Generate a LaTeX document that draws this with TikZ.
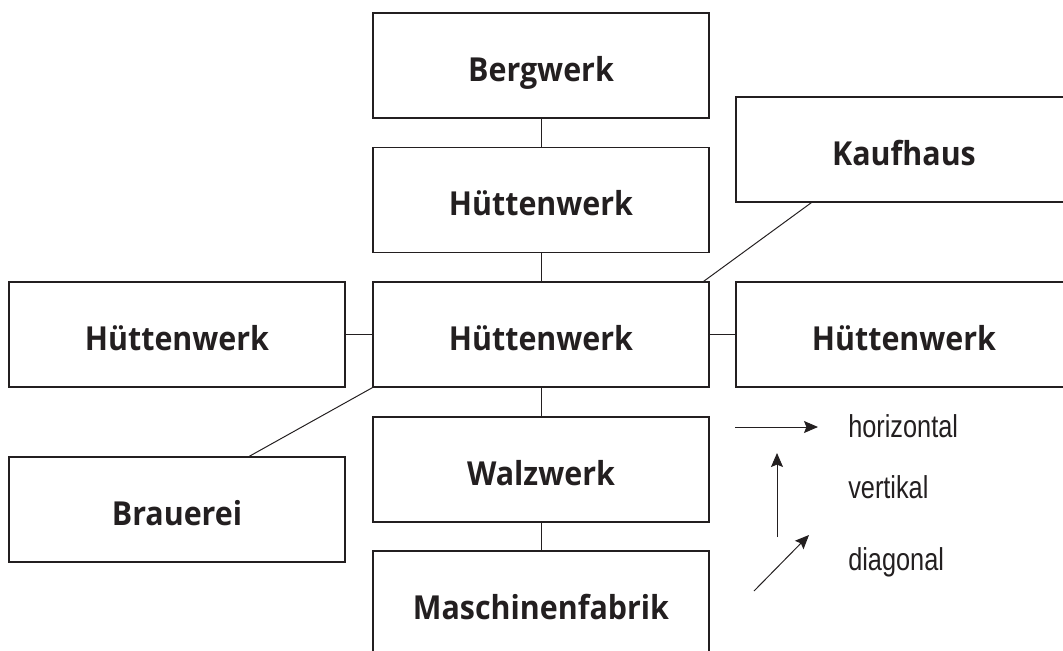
\documentclass[tikz,border=0pt]{standalone}
\usepackage{fontspec}
\setmainfont{Open Sans}
\newfontfamily\werkfont[FakeStretch=0.92]{Open Sans}
\newfontfamily\legendfont[FakeStretch=0.8]{Liberation Sans}
\usetikzlibrary{arrows.meta,calc}
\definecolor{ink}{HTML}{231F20}
\begin{document}
\begin{tikzpicture}[draw=ink,text=ink]
\tikzset{werk/.style={draw,line width=1pt,minimum width=8.4cm,minimum height=2.625cm,inner sep=0pt,
  text height=0.775cm,text depth=0pt,font=\werkfont\fontsize{23.5}{28}\selectfont\bfseries},
  link/.style={line width=0.7pt},
  pfeil/.style={line width=0.7pt,-{Stealth[length=3.5mm,width=3mm,inset=0.6mm]}},
  legende/.style={anchor=base west,inner sep=0pt,font=\legendfont\fontsize{22.5}{27}\selectfont}}
\clip (0,0) rectangle (26.575,-16.275);
\node [werk] (berg) at (13.525,-1.6375) {Bergwerk};
\node [werk] (huette1) at (13.525,-5) {Hüttenwerk};
\node [werk] (huette2) at (13.525,-8.3625) {Hüttenwerk};
\node [werk] (huetteL) at (4.425,-8.3625) {Hüttenwerk};
\node [werk] (huetteR) at (22.6,-8.3625) {Hüttenwerk};
\node [werk] (kauf) at (22.6,-3.7375) {Kaufhaus};
\node [werk] (walz) at (13.525,-11.7375) {Walzwerk};
\node [werk] (masch) at (13.525,-15.0875) {Maschinenfabrik};
\node [werk] (brau) at (4.425,-12.7375) {Brauerei};
\draw [link] (berg) -- (huette1);
\draw [link] (huette1) -- (huette2);
\draw [link] (huette2) -- (walz);
\draw [link] (walz) -- (masch);
\draw [link] (huetteL) -- (huette2);
\draw [link] (huette2) -- (huetteR);
\draw [link] ($(huette2.north east)+(-0.15,0)$) -- ($(kauf.south west)+(1.9,0)$);
\draw [link] (huette2.south west) -- ($(brau.north west)+(6.025,0)$);
% Legende
\node [legende] (hor) at (21.2,-10.925) {horizontal};
\node [legende] (ver) at (21.2,-12.45) {vertikal};
\node [legende] (dia) at (21.2,-14.25) {diagonal};
\coordinate (h1) at (18.375,-10.675);
\coordinate (h2) at (20.45,-10.675);
\coordinate (v1) at (19.425,-13.425);
\coordinate (v2) at (19.425,-11.325);
\coordinate (d1) at (18.85,-14.775);
\coordinate (d2) at (20.225,-13.375);
\draw [pfeil] (h1) -- (h2);
\draw [pfeil] (v1) -- (v2);
\draw [pfeil] (d1) -- (d2);
\end{tikzpicture}
\end{document}
